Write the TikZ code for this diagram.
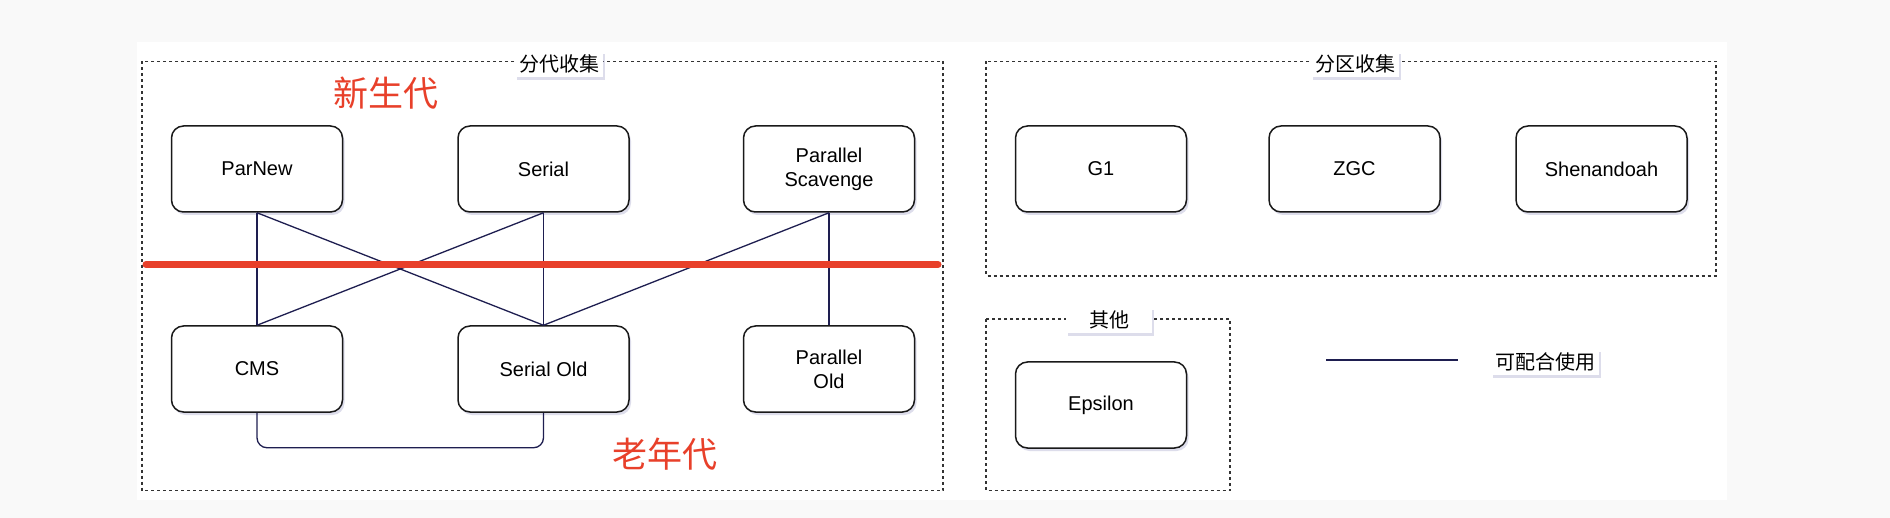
\documentclass[tikz,border=0pt]{standalone}
\usepackage{fontspec}
\setmainfont{Liberation Sans}
\newfontfamily\cjk{Noto Sans CJK SC}
\usetikzlibrary{shadows}
\definecolor{edgecol}{RGB}{30,30,80}
\definecolor{redcol}{RGB}{232,64,42}
\definecolor{bgcol}{RGB}{249,249,249}
\definecolor{shcol}{RGB}{160,160,200}
\begin{document}
\begin{tikzpicture}[x=1pt,y=-1pt,
  gcbox/.style={draw=black!90, line width=1.5pt, rounded corners=12pt, fill=white,
    minimum width=171pt, minimum height=86pt, align=center, inner sep=0pt,
    font=\fontsize{20}{24}\selectfont,
    drop shadow={shadow xshift=2pt, shadow yshift=-3pt, fill=shcol, opacity=0.35}},
  group/.style={draw=black!80, line width=1.2pt, dash pattern=on 3pt off 3pt},
  lbl/.style={fill=white, inner xsep=4pt, inner ysep=4pt, font=\cjk\fontsize{20}{24}\selectfont,
    drop shadow={shadow xshift=2pt, shadow yshift=-3pt, fill=shcol, opacity=0.35}},
  link/.style={draw=edgecol, line width=1.3pt},
  gen/.style={text=redcol, font=\cjk\fontsize{35}{40}\selectfont}]
\useasboundingbox (0,0) rectangle (1890,518);
\fill[bgcol] (0,0) rectangle (1890,518);
\fill[white] (137,42) rectangle (1727,500);
% groups
\draw[group] (142,61.5) rectangle (943,490.5);
\draw[group] (986,61.5) rectangle (1716,276);
\draw[group] (986,319) rectangle (1230,490.5);
\node[lbl] (lblfd) at (559,64) {分代收集};
\node[lbl] (lblfq) at (1355,64) {分区收集};
\node[lbl, minimum width=86pt] (lblqt) at (1109,320) {其他};
% generation texts
\node[gen] (young) at (386,93) {新生代};
\node[gen] (old) at (665,454) {老年代};
% collectors
\node[gcbox] (parnew) at (257,169) {ParNew};
\node[gcbox] (serial) at (543.5,169) {Serial};
\node[gcbox] (ps) at (829,169) {Parallel\\Scavenge};
\node[gcbox] (cms) at (257,369) {CMS};
\node[gcbox] (serialold) at (543.5,369) {Serial Old};
\node[gcbox] (parold) at (829,369) {Parallel\\Old};
\node[gcbox] (g1) at (1101,169) {G1};
\node[gcbox] (zgc) at (1354.5,169) {ZGC};
\node[gcbox] (shen) at (1601.5,169) {Shenandoah};
\node[gcbox] (eps) at (1101,405) {Epsilon};
% links
\draw[link] (parnew.south) -- (cms.north);
\draw[link] (parnew.south) -- (serialold.north);
\draw[link] (serial.south) -- (cms.north);
\draw[link] (serial.south) -- (serialold.north);
\draw[link] (ps.south) -- (serialold.north);
\draw[link] (ps.south) -- (parold.north);
\draw[link, rounded corners=10pt] (cms.south) -- ++(0,35) -| (serialold.south);
% red divider
\coordinate (rl1) at (146,264.5);
\coordinate (rl2) at (938,264.5);
\draw[redcol, line width=7pt, line cap=round] (rl1) -- (rl2);
% legend
\coordinate (lg1) at (1326,360);
\coordinate (lg2) at (1458,360);
\draw[link] (lg1) -- (lg2);
\node[lbl] (lblleg) at (1545,362) {可配合使用};
\end{tikzpicture}
\end{document}
